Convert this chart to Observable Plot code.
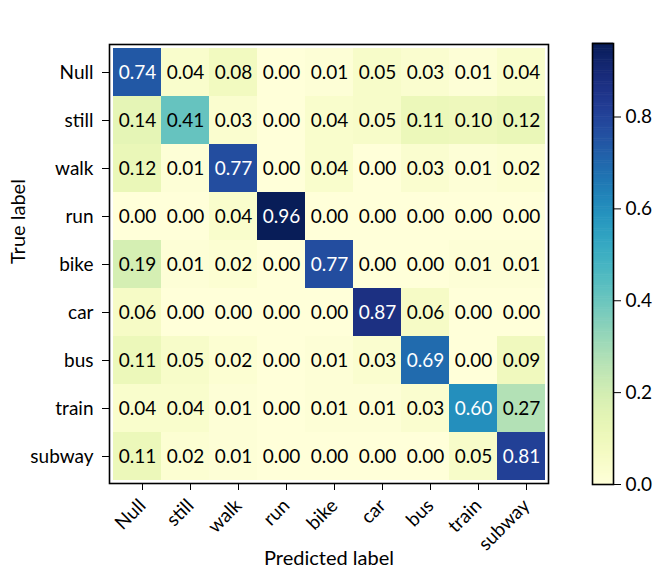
<!DOCTYPE html>
<html>
<head>
<meta charset="utf-8">
<script src="https://cdn.jsdelivr.net/npm/d3@7"></script>
<script src="https://cdn.jsdelivr.net/npm/@observablehq/plot@0.6"></script>
<style>
  body { margin: 0; background: white; }
  #wrap { position: relative; width: 657px; height: 568px; font-family: Lato, "DejaVu Sans", sans-serif; }
  #wrap svg { position: absolute; top: 0; }
  #title { position: absolute; left: 109px; width: 439px; top: 9px; text-align: center; font-size: 19px; line-height: 22px; color: black; }
</style>
</head>
<body>
<div id="wrap"><div id="title">Confusion matrix</div></div>
<script>
const labels = ["Null", "still", "walk", "run", "bike", "car", "bus", "train", "subway"];
const matrix = [
  [0.74, 0.04, 0.08, 0.00, 0.01, 0.05, 0.03, 0.01, 0.04],
  [0.14, 0.41, 0.03, 0.00, 0.04, 0.05, 0.11, 0.10, 0.12],
  [0.12, 0.01, 0.77, 0.00, 0.04, 0.00, 0.03, 0.01, 0.02],
  [0.00, 0.00, 0.04, 0.96, 0.00, 0.00, 0.00, 0.00, 0.00],
  [0.19, 0.01, 0.02, 0.00, 0.77, 0.00, 0.00, 0.01, 0.01],
  [0.06, 0.00, 0.00, 0.00, 0.00, 0.87, 0.06, 0.00, 0.00],
  [0.11, 0.05, 0.02, 0.00, 0.01, 0.03, 0.69, 0.00, 0.09],
  [0.04, 0.04, 0.01, 0.00, 0.01, 0.01, 0.03, 0.60, 0.27],
  [0.11, 0.02, 0.01, 0.00, 0.00, 0.00, 0.00, 0.05, 0.81]
];
const colorTicks = [0, 0.2, 0.4, 0.6, 0.8];
const vmax = 0.96;

const data = [];
matrix.forEach((row, i) => row.forEach((v, j) => data.push({t: labels[i], p: labels[j], v})));

const wrap = document.getElementById("wrap");
const font = 19;
const ff = "Lato, 'DejaVu Sans', sans-serif";

const main = Plot.plot({
  width: 575, height: 568,
  marginLeft: 109, marginRight: 27, marginTop: 44, marginBottom: 85,
  style: {fontFamily: ff, fontSize: font + "px", background: "white", color: "black"},
  x: {domain: labels, padding: 0, label: null},
  y: {domain: labels, padding: 0, label: null},
  color: {type: "linear", domain: [0, vmax], scheme: "YlGnBu"},
  marks: [
    Plot.cell(data, {x: "p", y: "t", fill: "v"}),
    Plot.text(data, {x: "p", y: "t", text: d => d.v.toFixed(2), fill: d => d.v > vmax / 2 ? "white" : "black", fontSize: font}),
    Plot.frame({stroke: "black", strokeWidth: 1.6}),
    Plot.axisX({tickRotate: -45, tickSize: 7, tickPadding: 12, dx: 5, fontSize: font, label: null}),
    Plot.axisY({tickSize: 7, tickPadding: 9, fontSize: font, label: null}),
    Plot.text(["Predicted label"], {frameAnchor: "bottom", dy: 81, fontSize: 20}),
    Plot.text(["True label"], {frameAnchor: "left", dx: -91, rotate: -90, fontSize: 20})
  ]
});
main.style.left = "0px";
wrap.appendChild(main);

const steps = d3.range(0, 240).map(i => ({y1: i * vmax / 240, y2: (i + 1) * vmax / 240}));
const bar = Plot.plot({
  width: 97, height: 568,
  marginLeft: 32, marginRight: 44, marginTop: 43, marginBottom: 84,
  style: {fontFamily: ff, fontSize: font + "px", background: "transparent", color: "black"},
  x: {domain: [0, 1], axis: null},
  y: {domain: [0, vmax], axis: null},
  color: {type: "linear", domain: [0, vmax], scheme: "YlGnBu"},
  marks: [
    Plot.rect(steps, {x1: 0, x2: 1, y1: "y1", y2: "y2", fill: d => (d.y1 + d.y2) / 2, inset: 0, insetTop: -0.3, insetBottom: -0.3}),
    Plot.frame({stroke: "black", strokeWidth: 1.6}),
    Plot.axisY({anchor: "right", ticks: colorTicks, tickFormat: ".1f", tickSize: 7, tickPadding: 5, fontSize: font, label: null})
  ]
});
bar.style.left = "560px";
wrap.appendChild(bar);
</script>
</body>
</html>
